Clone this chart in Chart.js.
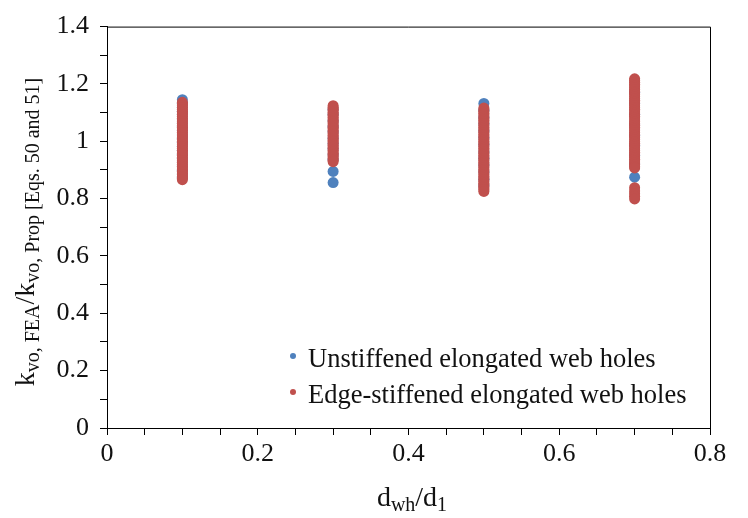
<!DOCTYPE html>
<html><head><meta charset="utf-8">
<script src="https://cdn.jsdelivr.net/npm/chart.js@4/dist/chart.umd.min.js"></script>
<style>html,body{margin:0;padding:0;background:#fff}#wrap{width:748px;height:518px;position:relative}</style>
</head><body><div id="wrap"><canvas id="c" width="748" height="518"></canvas></div>
<script>
// ---- data ----
const seriesNames = ['Unstiffened elongated web holes', 'Edge-stiffened elongated web holes'];
const holeRatios = [0.1, 0.3, 0.5, 0.7];
const unstiffened01 = [1.145, 1.132, 1.118, 1.104, 1.093, 1.078, 1.064, 1.051, 1.037, 1.022, 1.010, 0.996, 0.983, 0.969, 0.955, 0.941, 0.928, 0.914, 0.899, 0.886, 0.874];
const unstiffened03 = [1.112, 1.094, 1.071, 1.052, 1.033, 1.011, 0.992, 0.974, 0.953, 0.937, 0.895, 0.856];
const unstiffened05 = [1.132, 1.108, 1.083, 1.061, 1.036, 1.012, 0.989, 0.963, 0.941, 0.917, 0.893, 0.868, 0.846];
const unstiffened07 = [1.171, 1.132, 1.094, 1.058, 1.021, 0.986, 0.951, 0.921, 0.875];
const stiffened01 = [1.136, 1.130, 1.124, 1.117, 1.111, 1.105, 1.099, 1.093, 1.087, 1.080, 1.074, 1.068, 1.062, 1.055, 1.049, 1.043, 1.037, 1.031, 1.025, 1.018, 1.012, 1.006, 1.000, 0.994, 0.988, 0.981, 0.975, 0.969, 0.963, 0.957, 0.951, 0.944, 0.938, 0.932, 0.926, 0.920, 0.913, 0.907, 0.901, 0.895, 0.889, 0.883, 0.877, 0.871, 0.866];
const stiffened03 = [1.124, 1.118, 1.113, 1.107, 1.101, 1.095, 1.090, 1.084, 1.078, 1.072, 1.067, 1.061, 1.055, 1.049, 1.044, 1.038, 1.032, 1.026, 1.021, 1.015, 1.009, 1.003, 0.998, 0.992, 0.986, 0.980, 0.975, 0.969, 0.963, 0.957, 0.952, 0.946, 0.940, 0.934, 0.929];
const stiffened05 = [1.116, 1.110, 1.104, 1.098, 1.092, 1.085, 1.079, 1.073, 1.067, 1.061, 1.055, 1.049, 1.043, 1.037, 1.031, 1.024, 1.018, 1.012, 1.006, 1.000, 0.994, 0.988, 0.982, 0.976, 0.970, 0.963, 0.957, 0.951, 0.945, 0.939, 0.933, 0.927, 0.921, 0.915, 0.909, 0.902, 0.896, 0.890, 0.884, 0.878, 0.872, 0.866, 0.860, 0.854, 0.848, 0.842, 0.837, 0.831, 0.825];
const stiffened07 = [1.218, 1.212, 1.206, 1.199, 1.193, 1.187, 1.181, 1.174, 1.168, 1.162, 1.156, 1.149, 1.143, 1.137, 1.131, 1.124, 1.118, 1.112, 1.106, 1.099, 1.093, 1.087, 1.081, 1.074, 1.068, 1.062, 1.056, 1.049, 1.043, 1.037, 1.031, 1.024, 1.018, 1.012, 1.006, 0.999, 0.993, 0.987, 0.981, 0.974, 0.968, 0.962, 0.956, 0.949, 0.943, 0.937, 0.931, 0.924, 0.918, 0.912, 0.907, 0.838, 0.827, 0.817, 0.808, 0.799];
const xTickLabels = ['0', '0.2', '0.4', '0.6', '0.8'];
const yTickLabels = ['0', '0.2', '0.4', '0.6', '0.8', '1', '1.2', '1.4'];

function pts(groups) {
  const out = [];
  groups.forEach((vals, i) => vals.forEach(v => out.push({x: holeRatios[i], y: v})));
  return out;
}
const blueData = pts([unstiffened01, unstiffened03, unstiffened05, unstiffened07]);
const redData = pts([stiffened01, stiffened03, stiffened05, stiffened07]);

const FONT = "'Liberation Serif', 'Times New Roman', serif";
const BLUE = '#4F81BD', RED = '#C0504D';

const decor = {
  id: 'decor',
  afterDraw(chart) {
    const ctx = chart.ctx, a = chart.chartArea;
    ctx.save();
    // frame top & right
    ctx.strokeStyle = '#000'; ctx.lineWidth = 1;
    ctx.beginPath();
    ctx.moveTo(a.left, a.top + 0.5); ctx.lineTo(a.right + 0.5, a.top + 0.5); ctx.lineTo(a.right + 0.5, a.bottom);
    ctx.stroke();
    // legend
    const rows = [{t: seriesNames[0], c: BLUE, y: 367}, {t: seriesNames[1], c: RED, y: 403}];
    ctx.font = '26.5px ' + FONT; ctx.textBaseline = 'alphabetic'; ctx.textAlign = 'left';
    rows.forEach(r => {
      ctx.fillStyle = r.c; ctx.beginPath(); ctx.arc(293, r.y - 11, 3, 0, Math.PI * 2); ctx.fill();
      ctx.fillStyle = '#111'; ctx.fillText(r.t, 308, r.y);
    });
    const MAIN = '28px ', SUB = '20px ';
    const parts = (list, x, y) => {
      list.forEach(p => {
        ctx.font = (p.s ? SUB : MAIN) + FONT;
        ctx.fillText(p.t, x, y + (p.s ? 5 : 0));
        x += ctx.measureText(p.t).width;
      });
      return x;
    };
    const widthOf = list => { let w = 0; list.forEach(p => { ctx.font = (p.s ? SUB : MAIN) + FONT; w += ctx.measureText(p.t).width; }); return w; };
    // x title: d_wh/d_1
    const xt = [{t: 'd'}, {t: 'wh', s: 1}, {t: '/d'}, {t: '1', s: 1}];
    ctx.fillStyle = '#111';
    parts(xt, 412 - widthOf(xt) / 2, 506);
    // y title
    const yt = [{t: 'k'}, {t: 'vo, FEA', s: 1}, {t: '/k'}, {t: 'vo, Prop [Eqs. 50 and 51]', s: 1}];
    const w = widthOf(yt);
    ctx.translate(34, 232 + w / 2);
    ctx.rotate(-Math.PI / 2);
    parts(yt, 0, 0);
    ctx.restore();
  }
};

new Chart(document.getElementById('c'), {
  type: 'scatter',
  data: {
    datasets: [
      {label: seriesNames[0], data: blueData, backgroundColor: BLUE, borderColor: BLUE, borderWidth: 0, pointRadius: 5.5, order: 1},
      {label: seriesNames[1], data: redData, backgroundColor: RED, borderColor: RED, borderWidth: 0, pointRadius: 5.5, order: 0}
    ]
  },
  options: {
    responsive: false, animation: false, devicePixelRatio: 1,
    layout: {padding: {top: 19, right: 38, left: 0, bottom: 0}},
    plugins: {legend: {display: false}, tooltip: {enabled: false}},
    scales: {
      x: {
        type: 'linear', min: 0, max: 0.8,
        afterFit(s) { s.height = 90; },
        grid: {drawOnChartArea: false, tickLength: 7, color: '#000', tickWidth: 1},
        border: {color: '#000', width: 1},
        ticks: {
          stepSize: 0.05, autoSkip: false, maxRotation: 0, padding: 4, color: '#111',
          font: {family: FONT, size: 26},
          callback: v => { const k = Math.round(v * 20); return k % 4 === 0 ? xTickLabels[k / 4] : ''; }
        }
      },
      y: {
        min: 0, max: 1.4,
        afterFit(s) { s.width = 107; },
        grid: {drawOnChartArea: false, tickLength: 7, color: '#000', tickWidth: 1},
        border: {color: '#000', width: 1},
        ticks: {
          stepSize: 0.1, autoSkip: false, padding: 11, color: '#111',
          font: {family: FONT, size: 26},
          callback: v => { const k = Math.round(v * 10); return k % 2 === 0 ? yTickLabels[k / 2] : ''; }
        }
      }
    }
  },
  plugins: [decor]
});
</script>
</body></html>
